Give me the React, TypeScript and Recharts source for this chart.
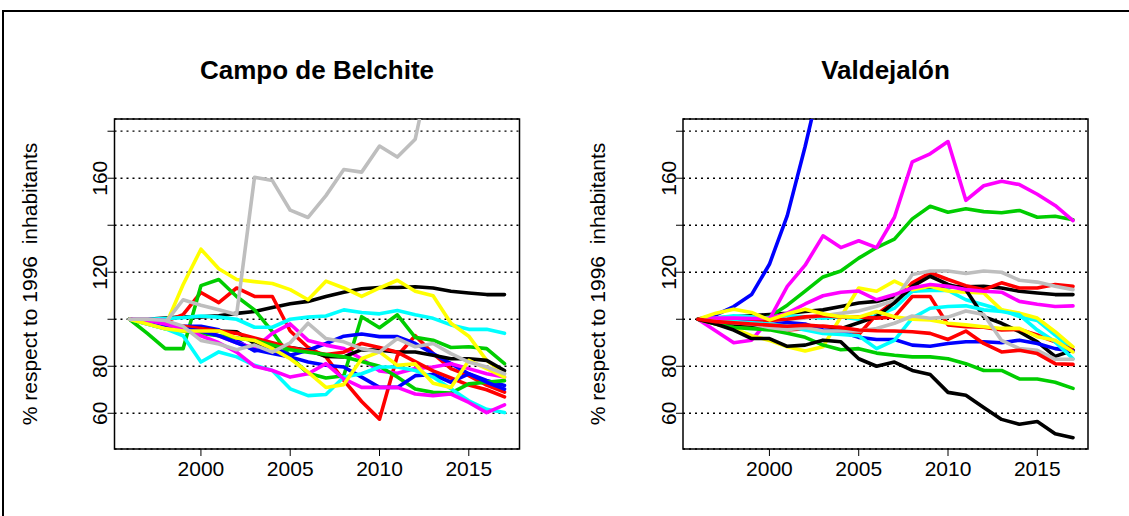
import React from 'react';
import { LineChart, Line, XAxis, YAxis, CartesianGrid, ReferenceArea } from 'recharts';

// ---------- data ----------
const years = [1996, 1997, 1998, 1999, 2000, 2001, 2002, 2003, 2004, 2005, 2006, 2007, 2008, 2009, 2010, 2011, 2012, 2013, 2014, 2015, 2016, 2017];

const xTicks = [2000, 2005, 2010, 2015];
const yTicks = [60, 80, 100, 120, 140, 160, 180];
const yTickLabels = [60, 80, 120, 160];

const titleLeft = 'Campo de Belchite';
const titleRight = 'Valdejalón';
const yAxisTitle = '% respect to 1996  inhabitants';

// Campo de Belchite
const bBlack1 = [100, 100, 100.5, 101, 101, 101.5, 102.5, 103.3, 105, 106.6, 107.6, 109.7, 111.5, 113, 113.5, 113.5, 113.8, 113.3, 111.9, 111.2, 110.5, 110.5];
const bRed1 = [100, 100, 99, 102, 111.4, 107.1, 113.3, 109.7, 109.7, 95, 88, 84, 74, 65, 57.5, 84.5, 93, 85.4, 79, 76, 72, 69];
const bGreen1 = [100, 94, 87.5, 87.5, 114.3, 116.9, 109.7, 104, 94.7, 84, 77, 75, 76, 101.1, 96.4, 101.9, 92.3, 91.1, 88, 88.3, 87.5, 81.1];
const bBlue1 = [100, 99, 98, 97, 97, 95.5, 91, 86.5, 88.3, 84.7, 86.8, 89.7, 92.8, 93.7, 92.6, 92.6, 89.7, 85.4, 81.1, 76.8, 74, 71.8];
const bCyan1 = [100, 100, 100.3, 100.7, 101.4, 100.9, 100, 96.6, 96.6, 100, 100.9, 101.4, 104, 102.9, 102.3, 103.7, 101.9, 100.4, 97.6, 95.7, 95.7, 94];
const bMagenta1 = [100, 100, 99.5, 96, 95, 93, 90, 87.7, 94, 98, 91, 89, 87.5, 83.2, 78, 77, 79, 79.7, 81.1, 79, 76.8, 75.4];
const bYellow1 = [100, 99, 97, 114.7, 129.8, 121.5, 116.9, 116, 115.2, 112.6, 108.3, 116.2, 113.3, 109.7, 113.3, 116.6, 111.9, 110, 98.3, 92.8, 82.5, 76.8];
const bGray1 = [100, 100, 98.5, 108.3, 106, 104, 102, 160.4, 159, 146.4, 143.3, 152.6, 163.7, 162.6, 173.7, 169, 176.6, 212, 230, 245, 255, 265];
const bBlack2 = [100, 98.5, 97.5, 96.5, 96, 95, 94.7, 89.7, 88.3, 88, 86.8, 84.2, 84, 87.1, 86.8, 86.1, 86.1, 84.7, 83.2, 83.2, 82.5, 78.2];
const bRed2 = [100, 99, 98, 97, 96, 95, 94, 92, 90, 88, 86.5, 85, 86, 89.7, 88, 86, 82, 78, 75, 72, 70, 67];
const bGreen2 = [100, 98, 96, 95, 94, 93, 92, 91, 89, 87, 86, 85, 84, 82, 80, 75.4, 70.3, 68.9, 68.6, 72.5, 73.2, 73.9];
const bBlue2 = [100, 99, 97.5, 96, 95, 93, 90, 87, 85.4, 84, 81.8, 80.4, 79.7, 75.4, 71, 71, 76, 76.5, 73.2, 76.8, 73.2, 70.3];
const bCyan2 = [100, 98, 96, 93, 81.8, 86.1, 84, 80.4, 78.2, 70.4, 67.5, 68, 75.4, 76.8, 79.7, 79.7, 78.2, 75.4, 70.4, 65.3, 61.7, 60.3];
const bMagenta2 = [100, 99.5, 98, 96, 93, 90, 86, 80, 78.2, 75.4, 76.8, 81.1, 74.6, 71, 71, 71, 68.2, 67.5, 68.2, 64.6, 60.3, 63.6];
const bYellow2 = [100, 98, 96, 95, 95, 95, 92, 91, 87.5, 83.2, 77.5, 71, 72.2, 83.2, 86.1, 80.4, 81, 72.8, 71, 82.5, 79, 75.4];
const bGray2 = [100, 100, 99.5, 97, 91, 89.5, 87, 89, 86, 90, 98.3, 91.8, 90.4, 87.5, 86, 91.8, 88.3, 89.7, 85.4, 81.8, 79.7, 76.8];

// Valdejalón
const vBlack1 = [100, 100.5, 101, 101.5, 102, 102.5, 103.3, 104, 105.4, 106.9, 107.6, 109.7, 111.9, 113.3, 114, 113.8, 114, 113.3, 111.9, 111.2, 110.5, 110.5];
const vRed1 = [100, 99, 98, 97, 96, 95.5, 96, 97, 96.5, 93.5, 102, 107.5, 115.5, 119.8, 116.9, 114.3, 112.6, 115.5, 113.3, 113.3, 114.8, 114];
const vGreen1 = [100, 98.5, 97.5, 99, 101.1, 106, 112, 118, 120.5, 126, 130.5, 134.1, 142.7, 148.1, 145.5, 147, 145.8, 145.3, 146.3, 143.4, 143.8, 142.3];
const vBlue1 = [100, 101.9, 105.4, 110.5, 123.4, 144.1, 173.5, 206, 240, 270, 300, 325, 345, 360, 372, 380, 386, 390, 394, 397, 399, 401];
const vCyan1 = [100, 100.5, 101.5, 101, 100.5, 101.5, 101, 100.5, 101, 100, 101.5, 104.7, 111.9, 112.3, 112.3, 108.3, 106.2, 104, 101.1, 99.5, 93.3, 86.8];
const vMagenta1 = [100, 95, 90, 91.1, 100, 114, 123, 135.5, 130.5, 133.4, 130.5, 143.4, 167, 170.4, 175.6, 150.6, 156.8, 158.7, 157.3, 153.2, 148.4, 142];
const vYellow1 = [100, 98, 96, 93, 91, 88.3, 86.5, 88.3, 101, 113.3, 111.9, 116.2, 112.6, 114, 112, 111.5, 111.2, 104, 102.6, 100.5, 94.7, 88.3];
const vGray1 = [100, 100, 100.5, 100, 99.5, 100, 100.5, 101.5, 102.5, 103.5, 105.5, 108, 119, 120.5, 120.5, 119.5, 120.5, 120, 116.6, 115.8, 114, 112.6];
const vBlack2 = [100, 99, 98, 97.5, 97, 96.5, 96, 95, 96, 98.5, 101.1, 107, 114, 118.3, 114.8, 112.6, 101.1, 98.3, 94.7, 90.4, 84.2, 86.8];
const vRed2 = [100, 99.5, 99, 99, 99.5, 100, 101, 101.5, 101, 101, 100.5, 101, 109.7, 109.7, 97.6, 96.8, 96.6, 95.4, 95.7, 93.3, 90.4, 86.8];
const vGreen2 = [100, 98, 96.5, 96, 95.5, 94, 92.3, 89, 87, 87.5, 85.6, 84.7, 84, 84, 83.2, 81.1, 78.2, 78.2, 74.6, 74.6, 73.2, 70.6];
const vBlue2 = [100, 99.5, 99, 98.5, 97.6, 98.6, 98, 95.4, 94.7, 92.3, 91.4, 91.4, 89, 88.5, 89.7, 90.4, 90.4, 90, 91.1, 89.7, 87.5, 86.5];
const vCyan2 = [100, 99.5, 99, 98.5, 98, 97, 95.4, 94, 93.5, 93, 87.5, 91, 100.5, 104.7, 105.4, 105.7, 104, 103.3, 101.9, 95.4, 90.4, 83.2];
const vMagenta2 = [100, 100.5, 100.5, 100.3, 100.5, 102.6, 106.5, 110, 111.5, 112, 108.3, 110.5, 113.3, 114.8, 114, 112.6, 111.9, 111.5, 107.6, 106.4, 105.4, 105.7];
const vYellow2 = [100, 102.6, 104.3, 102.9, 99.7, 102.3, 104.3, 102.3, 101.1, 100.9, 103.3, 101.1, 100, 99.7, 98.3, 97.6, 96.8, 96.1, 96.1, 92.6, 91.1, 86.1];
const vGray2 = [100, 99, 98.5, 98, 96.5, 95.5, 96.5, 95, 95, 95, 96.1, 98.3, 101.4, 100.4, 100.9, 103.5, 102, 91, 87.5, 86.8, 83, 83];
const vBlack3 = [100, 98, 95.4, 91.8, 91.8, 88.5, 89, 91.1, 90.4, 83.2, 80, 81.8, 78.2, 76.5, 68.9, 67.7, 62.5, 57.4, 55.3, 56.5, 51.3, 49.6];
const vRed3 = [100, 99, 98.5, 98, 97.5, 97, 97.5, 97, 96.5, 95.4, 95.1, 95, 94.7, 94, 91.4, 95, 89.7, 86.1, 86.8, 85.4, 81.1, 80.8];

// R palette
const C_BLACK = '#000000';
const C_RED = '#FF0000';
const C_GREEN = '#00CD00';
const C_BLUE = '#0000FF';
const C_CYAN = '#00FFFF';
const C_MAGENTA = '#FF00FF';
const C_YELLOW = '#FFFF00';
const C_GRAY = '#BEBEBE';

const leftSeries = [
  { key: 'bBlack1', values: bBlack1, color: C_BLACK },
  { key: 'bRed1', values: bRed1, color: C_RED },
  { key: 'bGreen1', values: bGreen1, color: C_GREEN },
  { key: 'bBlue1', values: bBlue1, color: C_BLUE },
  { key: 'bCyan1', values: bCyan1, color: C_CYAN },
  { key: 'bMagenta1', values: bMagenta1, color: C_MAGENTA },
  { key: 'bYellow1', values: bYellow1, color: C_YELLOW },
  { key: 'bGray1', values: bGray1, color: C_GRAY },
  { key: 'bBlack2', values: bBlack2, color: C_BLACK },
  { key: 'bRed2', values: bRed2, color: C_RED },
  { key: 'bGreen2', values: bGreen2, color: C_GREEN },
  { key: 'bBlue2', values: bBlue2, color: C_BLUE },
  { key: 'bCyan2', values: bCyan2, color: C_CYAN },
  { key: 'bMagenta2', values: bMagenta2, color: C_MAGENTA },
  { key: 'bYellow2', values: bYellow2, color: C_YELLOW },
  { key: 'bGray2', values: bGray2, color: C_GRAY },
];

const rightSeries = [
  { key: 'vBlack1', values: vBlack1, color: C_BLACK },
  { key: 'vRed1', values: vRed1, color: C_RED },
  { key: 'vGreen1', values: vGreen1, color: C_GREEN },
  { key: 'vBlue1', values: vBlue1, color: C_BLUE },
  { key: 'vCyan1', values: vCyan1, color: C_CYAN },
  { key: 'vMagenta1', values: vMagenta1, color: C_MAGENTA },
  { key: 'vYellow1', values: vYellow1, color: C_YELLOW },
  { key: 'vGray1', values: vGray1, color: C_GRAY },
  { key: 'vBlack2', values: vBlack2, color: C_BLACK },
  { key: 'vRed2', values: vRed2, color: C_RED },
  { key: 'vGreen2', values: vGreen2, color: C_GREEN },
  { key: 'vBlue2', values: vBlue2, color: C_BLUE },
  { key: 'vCyan2', values: vCyan2, color: C_CYAN },
  { key: 'vMagenta2', values: vMagenta2, color: C_MAGENTA },
  { key: 'vYellow2', values: vYellow2, color: C_YELLOW },
  { key: 'vGray2', values: vGray2, color: C_GRAY },
  { key: 'vBlack3', values: vBlack3, color: C_BLACK },
  { key: 'vRed3', values: vRed3, color: C_RED },
];

// ---------- styling / layout ----------
const FONT = '"Liberation Sans", Arial, Helvetica, sans-serif';
const X_DOMAIN: [number, number] = [1995.16, 2017.84];
const Y_DOMAIN: [number, number] = [44.8, 185.2];
const TICK_FS = 21;
const TITLE_FS = 26;
const PANEL_W = 566;
const CHART_H = 516;
const PLOT_TOP = 119;
const PLOT_H = 330;
const Y_AXIS_W = 50;
const X_AXIS_H = 60;
const TICK_LEN = 7;

type Series = { key: string; values: number[]; color: string };

function buildRows(series: Series[]) {
  return years.map((year, i) => {
    const row: Record<string, number> = { year };
    series.forEach((s) => {
      row[s.key] = s.values[i];
    });
    return row;
  });
}

const XTick = (props: any) => {
  const { x, y, payload } = props;
  return (
    <text x={x} y={y + 18} textAnchor="middle" fontSize={TICK_FS} fontFamily={FONT} fill="#000">
      {payload.value}
    </text>
  );
};

const YTick = (props: any) => {
  const { x, y, payload } = props;
  if (!yTickLabels.includes(payload.value)) return <g />;
  const bx = x + 2;
  return (
    <text
      x={bx}
      y={y}
      textAnchor="middle"
      fontSize={TICK_FS}
      fontFamily={FONT}
      fill="#000"
      transform={`rotate(-90 ${bx} ${y})`}
    >
      {payload.value}
    </text>
  );
};

function Panel({ series, title, plotLeft, plotRight }: { series: Series[]; title: string; plotLeft: number; plotRight: number }) {
  const rows = buildRows(series);
  const marginLeft = plotLeft - Y_AXIS_W;
  const marginRight = PANEL_W - plotRight;
  const marginBottom = CHART_H - PLOT_TOP - PLOT_H - X_AXIS_H;
  const cx = (plotLeft + plotRight) / 2;
  const labelX = plotLeft - 78;
  const labelY = PLOT_TOP + PLOT_H / 2;
  return (
    <div style={{ position: 'relative', width: PANEL_W, height: CHART_H }}>
      <LineChart
        width={PANEL_W}
        height={CHART_H}
        data={rows}
        margin={{ top: PLOT_TOP, right: marginRight, bottom: marginBottom, left: marginLeft }}
      >
        <CartesianGrid vertical={false} horizontal stroke="#000" strokeWidth={1.3} strokeDasharray="2 4" />
        <XAxis
          dataKey="year"
          type="number"
          domain={X_DOMAIN}
          allowDataOverflow
          ticks={xTicks}
          interval={0}
          axisLine={false}
          tickLine={{ stroke: '#000', strokeWidth: 1 }}
          tickSize={TICK_LEN}
          tickMargin={2}
          height={X_AXIS_H}
          tick={<XTick />}
        />
        <YAxis
          type="number"
          domain={Y_DOMAIN}
          allowDataOverflow
          ticks={yTicks}
          interval={0}
          axisLine={false}
          tickLine={{ stroke: '#000', strokeWidth: 1 }}
          tickSize={TICK_LEN}
          tickMargin={2}
          width={Y_AXIS_W}
          tick={<YTick />}
        />
        {series.map((s) => (
          <Line
            key={s.key}
            dataKey={s.key}
            type="linear"
            stroke={s.color}
            strokeWidth={3.6}
            strokeLinejoin="round"
            strokeLinecap="round"
            dot={false}
            activeDot={false}
            isAnimationActive={false}
          />
        ))}
        <ReferenceArea
          x1={X_DOMAIN[0]}
          x2={X_DOMAIN[1]}
          y1={Y_DOMAIN[0]}
          y2={Y_DOMAIN[1]}
          fill="none"
          fillOpacity={0}
          stroke="#000"
          strokeWidth={1.5}
          ifOverflow="visible"
        />
      </LineChart>
      <svg width={PANEL_W} height={CHART_H} style={{ position: 'absolute', left: 0, top: 0, pointerEvents: 'none' }}>
        <text x={cx} y={79} textAnchor="middle" fontSize={TITLE_FS} fontWeight="bold" fontFamily={FONT} fill="#000">
          {title}
        </text>
        <text
          x={labelX}
          y={labelY}
          textAnchor="middle"
          fontSize={TICK_FS}
          fontFamily={FONT}
          fill="#000"
          style={{ whiteSpace: 'pre' }}
          transform={`rotate(-90 ${labelX} ${labelY})`}
        >
          {yAxisTitle}
        </text>
      </svg>
    </div>
  );
}

export default function App() {
  return (
    <div
      style={{
        position: 'fixed',
        left: 0,
        top: 0,
        width: 1129,
        height: 516,
        background: '#fff',
        overflow: 'hidden',
        fontFamily: FONT,
      }}
    >
      <div style={{ position: 'absolute', left: 0, top: 0 }}>
        <Panel series={leftSeries} title={titleLeft} plotLeft={114.5} plotRight={519.5} />
      </div>
      <div style={{ position: 'absolute', left: PANEL_W, top: 0 }}>
        <Panel series={rightSeries} title={titleRight} plotLeft={683 - PANEL_W} plotRight={1088 - PANEL_W} />
      </div>
      <svg width={1129} height={516} style={{ position: 'absolute', left: 0, top: 0, pointerEvents: 'none' }}>
        <path d="M3 516 V11 H1129" stroke="#000" strokeWidth={2} fill="none" />
      </svg>
    </div>
  );
}
